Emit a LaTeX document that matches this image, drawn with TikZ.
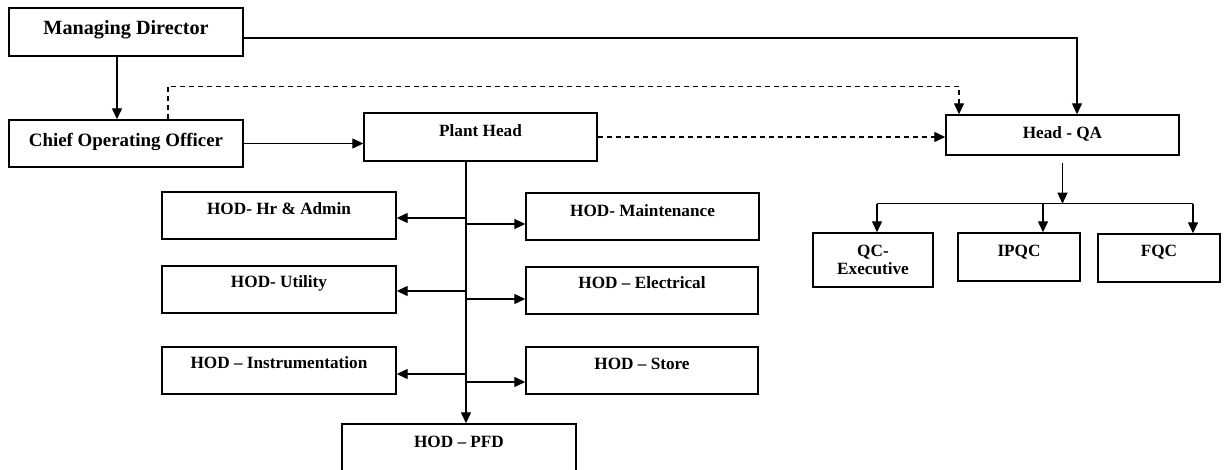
\documentclass[tikz,border=0pt]{standalone}
\usepackage{fontspec}
\setmainfont{Liberation Serif}
\usetikzlibrary{arrows.meta,calc}
\begin{document}
\begin{tikzpicture}[x=1pt,y=-1pt,
 box/.style={draw, line width=1.4pt, inner sep=0pt, font=\fontsize{17.2}{18}\selectfont\bfseries},
 tipa/.style={-{Triangle[length=11pt,width=10pt]}},
 arr/.style={line width=1.3pt, tipa},
 ln/.style={line width=1.3pt},
 dsh/.style={line width=1.3pt, dash pattern=on 5pt off 4pt}]
\clip (0,0) rectangle (1224,470);
\fill[white] (0,0) rectangle (1224,470);

\node[box, minimum width=234pt, text height=27pt, text depth=21pt, font=\fontsize{20.2}{22}\selectfont\bfseries] (MD) at (126,32) {Managing Director};
\node[box, minimum width=234pt, text height=27pt, text depth=20pt, font=\fontsize{18.9}{20}\selectfont\bfseries] (COO) at (126,143.5) {Chief Operating Officer};
\node[box, minimum width=233pt, text height=23.5pt, text depth=24.5pt] (PH) at (480.5,137) {Plant Head};
\node[box, minimum width=233pt, text height=24pt, text depth=16pt] (QA) at (1062.5,135) {Head - QA};
\node[box, minimum width=234pt, text height=23pt, text depth=24pt] (HR) at (279,215.5) {HOD- Hr \& Admin};
\node[box, minimum width=233pt, text height=24pt, text depth=23pt] (MN) at (642.5,216.5) {HOD- Maintenance};
\node[box, minimum width=234pt, text height=22pt, text depth=25pt] (UT) at (279,289.5) {HOD- Utility};
\node[box, minimum width=232pt, text height=22pt, text depth=25pt] (EL) at (642,290.5) {HOD – Electrical};
\node[box, minimum width=234pt, text height=22pt, text depth=25pt] (IN) at (279,370.5) {HOD – Instrumentation};
\node[box, minimum width=232pt, text height=23pt, text depth=24pt] (ST) at (642,370.5) {HOD – Store};
\node[box, minimum width=234pt, text height=23pt, text depth=27pt] (PFD) at (459,449) {HOD – PFD};
\node[box, minimum width=120pt, text height=24pt, text depth=30pt] (QCE) at (873,260) {\begin{tabular}[t]{@{}c@{}}QC-\\Executive\end{tabular}};
\node[box, minimum width=122pt, text height=24pt, text depth=24pt] (IPQC) at (1019,257) {IPQC};
\node[box, minimum width=122pt, text height=23pt, text depth=25pt] (FQC) at (1159,258) {FQC};

% top-level connectors
\draw[arr] ([xshift=-9pt]MD.south) -- ([xshift=-9pt]COO.north);
\draw[arr] ([yshift=-6pt]MD.east) -| ([xshift=14.5pt]QA.north);
\draw[arr] (COO.east) -- (COO.east -| PH.west);
\draw[dsh, tipa] ([xshift=42pt]COO.north) -- ++(0,-33) -| ([xshift=-103.5pt]QA.north);
\draw[dsh, tipa] (PH.east) -- (PH.east -| QA.west);

% plant head trunk
\coordinate (T) at ([xshift=-14.5pt]PH.south);
\draw[arr] (T) -- (T |- PFD.north);
\coordinate (a1) at ([yshift=-2.5pt]HR.east);
\coordinate (a2) at ([yshift=-1.5pt]UT.east);
\coordinate (a3) at ([yshift=-3.5pt]IN.east);
\coordinate (b1) at ([yshift=-7.5pt]MN.west);
\coordinate (b2) at ([yshift=-8.5pt]EL.west);
\coordinate (b3) at ([yshift=-11.5pt]ST.west);
\draw[arr] (a1 -| T) -- (a1);
\draw[arr] (a2 -| T) -- (a2);
\draw[arr] (a3 -| T) -- (a3);
\draw[arr] (b1 -| T) -- (b1);
\draw[arr] (b2 -| T) -- (b2);
\draw[arr] (b3 -| T) -- (b3);

% QA subtree
\coordinate (q0) at ([yshift=-7pt]QA.south);
\coordinate (bar) at ([yshift=-48pt]QA.south);
\draw[arr] (q0) -- (bar);
\coordinate (c1) at ([xshift=4pt]QCE.north);
\coordinate (c2) at ([xshift=24pt]IPQC.north);
\coordinate (c3) at ([xshift=34pt]FQC.north);
\draw[ln] (c1 |- bar) -- (c3 |- bar);
\draw[arr] (c1 |- bar) -- (c1);
\draw[arr] (c2 |- bar) -- (c2);
\draw[arr] (c3 |- bar) -- (c3);
\end{tikzpicture}
\end{document}
